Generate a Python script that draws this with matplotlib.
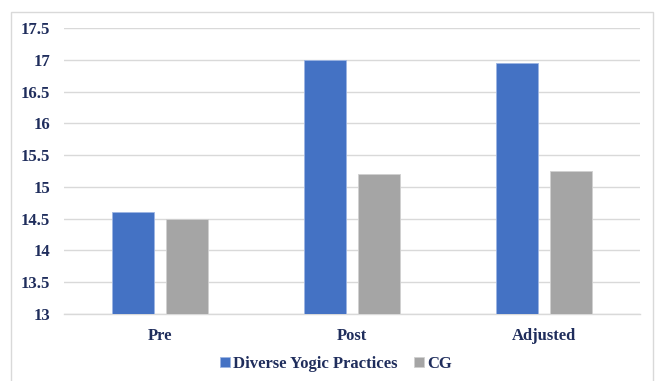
import matplotlib
matplotlib.use("Agg")
import matplotlib.pyplot as plt
import numpy as np
from matplotlib.patches import Rectangle

categories = ["Pre", "Post", "Adjusted"]
yogic = [14.6, 17.0, 16.95]
cg = [14.5, 15.2, 15.25]
series_names = ["Diverse Yogic Practices", "CG"]
yticks = [13, 13.5, 14, 14.5, 15, 15.5, 16, 16.5, 17, 17.5]

txt = "#1F2D5C"
plt.rcParams['font.family'] = ['Liberation Serif', 'DejaVu Serif']
plt.rcParams['font.weight'] = 'bold'

fig = plt.figure(figsize=(6.58, 3.81), dpi=100)
ax = fig.add_axes([64/658, 1-314/381, 576/658, (314-28)/381])

x = np.arange(len(categories))
w = 0.22
off = 0.1425
ax.bar(x - off, yogic, w, color="#4472C4", edgecolor="#9DB5E3", linewidth=0.6, label=series_names[0], zorder=3)
ax.bar(x + off, cg, w, color="#A5A5A5", edgecolor="#D0D0D0", linewidth=0.6, label=series_names[1], zorder=3)

ax.set_xlim(-0.5, 2.5)
ax.set_ylim(13, 17.5)
ax.set_yticks(yticks)
ax.set_yticklabels([f"{v:g}" for v in yticks])
ax.set_xticks(x)
ax.set_xticklabels(categories)
ax.yaxis.grid(True, color="#D9D9D9", linewidth=1.0, zorder=0)
ax.set_axisbelow(True)
for s in ["top", "right", "left"]:
    ax.spines[s].set_visible(False)
ax.spines["bottom"].set_color("#D9D9D9")
ax.spines["bottom"].set_linewidth(1.0)
ax.tick_params(axis="both", length=0, labelsize=12, colors=txt)
ax.tick_params(axis="y", pad=10)
ax.tick_params(axis="x", pad=10)
for lbl in ax.get_xticklabels() + ax.get_yticklabels():
    lbl.set_fontweight('bold')

leg = fig.legend(loc="center", bbox_to_anchor=(336/658, 1-364/381), ncol=2, frameon=False,
                 fontsize=12, handlelength=0.6, handleheight=0.6, handletextpad=0.2, columnspacing=1.0)
for t in leg.get_texts():
    t.set_color(txt)
    t.set_fontweight('bold')

fig.patches.append(Rectangle((11/658, -0.05), (653-11)/658, 1-12/381+0.05, transform=fig.transFigure,
                             fill=False, edgecolor="#D9D9D9", linewidth=1.0))

fig.savefig("out.png", dpi=100)
